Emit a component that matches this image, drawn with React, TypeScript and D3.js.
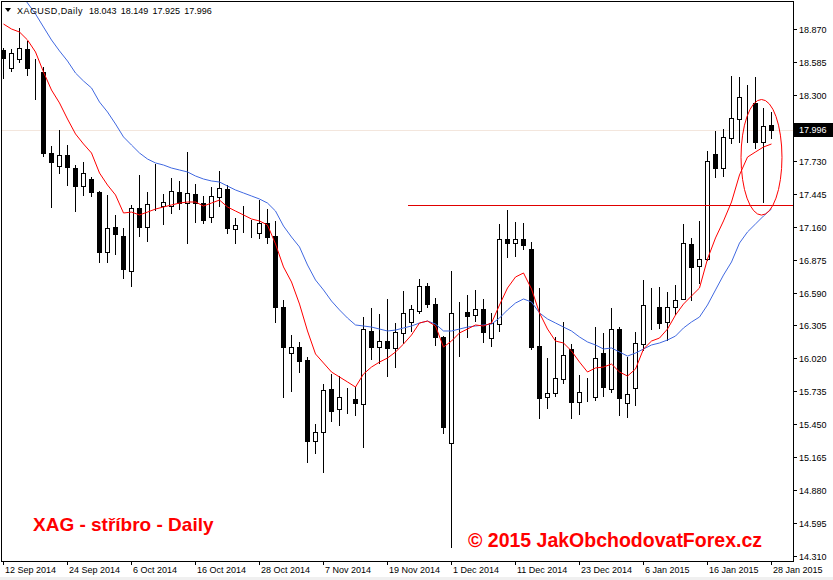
import React from "react";
import * as d3 from "d3";

// Trading days shown (daily bars)
const dates = [
  "2014-09-12","2014-09-15","2014-09-16","2014-09-17","2014-09-18","2014-09-19","2014-09-22","2014-09-23","2014-09-24","2014-09-25",
  "2014-09-26","2014-09-29","2014-09-30","2014-10-01","2014-10-02","2014-10-03","2014-10-06","2014-10-07","2014-10-08","2014-10-09",
  "2014-10-10","2014-10-13","2014-10-14","2014-10-15","2014-10-16","2014-10-17","2014-10-20","2014-10-21","2014-10-22","2014-10-23",
  "2014-10-24","2014-10-27","2014-10-28","2014-10-29","2014-10-30","2014-10-31","2014-11-03","2014-11-04","2014-11-05","2014-11-06",
  "2014-11-07","2014-11-10","2014-11-11","2014-11-12","2014-11-13","2014-11-14","2014-11-17","2014-11-18","2014-11-19","2014-11-20",
  "2014-11-21","2014-11-24","2014-11-25","2014-11-26","2014-11-27","2014-11-28","2014-12-01","2014-12-02","2014-12-03","2014-12-04",
  "2014-12-05","2014-12-08","2014-12-09","2014-12-10","2014-12-11","2014-12-12","2014-12-15","2014-12-16","2014-12-17","2014-12-18",
  "2014-12-19","2014-12-22","2014-12-23","2014-12-24","2014-12-26","2014-12-29","2014-12-30","2014-12-31","2015-01-02","2015-01-05",
  "2015-01-06","2015-01-07","2015-01-08","2015-01-09","2015-01-12","2015-01-13","2015-01-14","2015-01-15","2015-01-16","2015-01-19",
  "2015-01-20","2015-01-21","2015-01-22","2015-01-23","2015-01-26","2015-01-27","2015-01-28"
];

const openV = [
  18.688,18.532,18.610,18.697,18.510,18.498,17.798,17.685,17.780,17.667,
  17.512,17.572,17.460,16.940,17.157,17.079,16.776,17.321,17.157,17.347,
  17.339,17.339,17.460,17.364,17.442,17.364,17.243,17.416,17.486,17.139,
  17.165,17.113,17.105,17.191,17.079,16.465,16.066,16.118,16.006,15.305,
  15.383,15.755,15.582,15.677,15.668,15.625,16.257,16.118,16.170,16.109,
  16.239,16.335,16.430,16.646,16.491,16.205,15.288,16.430,16.421,16.395,
  16.447,16.196,16.317,17.053,17.018,17.053,16.967,16.127,15.686,15.720,
  15.842,16.101,15.642,15.729,15.686,16.066,15.755,16.274,15.634,15.764,
  16.144,16.499,16.465,16.335,16.465,16.534,17.010,16.819,16.880,17.789,
  17.667,17.927,18.091,18.273,18.230,17.892,18.043
];
const highV = [
  18.706,18.697,18.879,18.766,18.610,18.541,17.858,17.996,17.866,17.693,
  17.719,17.589,17.468,17.434,17.260,17.148,17.347,17.607,17.460,17.702,
  17.442,17.581,17.555,17.806,17.529,17.425,17.503,17.641,17.521,17.235,
  17.339,17.217,17.390,17.313,17.209,16.525,16.222,16.162,16.032,15.452,
  15.798,15.885,15.867,15.764,15.772,16.378,16.456,16.404,16.534,16.326,
  16.603,16.482,16.707,16.672,16.542,16.214,16.776,16.508,16.569,16.612,
  16.534,16.413,17.183,17.304,17.200,17.191,17.027,16.629,16.023,16.205,
  16.335,16.144,15.876,15.850,16.291,16.240,16.456,16.291,16.032,16.248,
  16.698,16.629,16.638,16.594,16.655,17.183,17.062,17.209,17.815,17.987,
  18.005,18.463,18.455,18.385,18.455,18.186,18.149
];
const lowV = [
  18.446,18.507,18.584,18.472,18.264,17.772,17.330,17.624,17.521,17.295,
  17.434,17.425,16.854,16.854,16.923,16.715,16.646,17.079,17.036,17.304,
  17.183,17.278,17.313,17.018,17.200,17.191,17.200,17.339,17.105,17.018,
  17.113,17.070,17.062,17.018,16.335,15.686,15.738,15.902,15.123,15.201,
  15.037,15.478,15.443,15.547,15.530,15.253,16.014,15.980,15.868,15.945,
  16.153,16.257,16.413,16.465,16.136,15.374,14.388,16.040,16.205,16.343,
  16.162,16.127,16.257,16.897,16.906,16.967,16.101,15.504,15.591,15.694,
  15.807,15.504,15.539,15.651,15.660,15.694,15.729,15.530,15.513,15.617,
  16.092,16.274,16.283,16.179,16.404,16.530,16.525,16.672,16.875,17.589,
  17.598,17.884,17.892,17.892,17.840,17.373,17.925
];
const closeV = [
  18.619,18.662,18.706,18.532,18.505,17.798,17.719,17.780,17.676,17.512,
  17.624,17.460,16.940,17.148,17.096,16.793,17.321,17.157,17.356,17.350,
  17.373,17.469,17.364,17.451,17.364,17.217,17.425,17.494,17.148,17.174,
  17.165,17.113,17.191,17.070,16.465,16.118,16.118,15.997,15.305,15.383,
  15.746,15.565,15.686,15.677,15.634,16.274,16.118,16.170,16.109,16.248,
  16.413,16.447,16.646,16.491,16.205,15.426,16.413,16.430,16.387,16.447,
  16.248,16.326,17.053,17.018,17.053,17.001,16.118,15.677,15.720,15.850,
  16.049,15.642,15.729,15.729,16.023,15.772,16.274,15.677,15.712,16.153,
  16.482,16.499,16.326,16.465,16.525,17.018,16.811,16.880,17.728,17.667,
  17.936,18.100,18.282,18.273,17.892,18.031,17.996
];

// Fast moving average (red)
const maFast = [
  18.913,18.870,18.844,18.775,18.671,18.498,18.342,18.230,18.091,17.962,
  17.875,17.797,17.624,17.520,17.434,17.278,17.286,17.261,17.286,17.312,
  17.330,17.347,17.364,17.373,17.373,17.338,17.364,17.390,17.330,17.295,
  17.261,17.226,17.209,17.174,17.010,16.811,16.681,16.490,16.257,16.058,
  15.980,15.902,15.859,15.816,15.772,15.885,15.945,15.988,16.023,16.075,
  16.144,16.222,16.326,16.343,16.300,16.118,16.170,16.240,16.274,16.309,
  16.300,16.326,16.482,16.629,16.724,16.759,16.620,16.413,16.274,16.170,
  16.153,16.084,15.988,15.902,15.937,15.945,15.971,15.902,15.867,15.928,
  16.101,16.170,16.196,16.274,16.395,16.490,16.560,16.629,16.880,17.062,
  17.209,17.373,17.607,17.762,17.806,17.849,17.875
];
// Slow moving average (blue)
const maSlow = [
  19.398,19.294,19.190,19.095,19.000,18.887,18.775,18.680,18.593,18.489,
  18.420,18.360,18.238,18.152,18.048,17.936,17.866,17.797,17.745,17.711,
  17.693,17.667,17.650,17.633,17.598,17.572,17.555,17.546,17.511,17.477,
  17.451,17.425,17.399,17.364,17.295,17.165,17.070,16.984,16.828,16.698,
  16.612,16.516,16.439,16.369,16.309,16.300,16.291,16.274,16.257,16.265,
  16.283,16.300,16.326,16.343,16.317,16.257,16.257,16.274,16.291,16.300,
  16.309,16.317,16.369,16.439,16.499,16.534,16.508,16.413,16.361,16.326,
  16.291,16.257,16.205,16.162,16.136,16.101,16.110,16.075,16.040,16.066,
  16.101,16.136,16.153,16.179,16.213,16.283,16.335,16.378,16.482,16.612,
  16.741,16.854,17.018,17.114,17.183,17.252,17.313
];

const yTickValues = [18.870,18.585,18.300,18.015,17.730,17.445,17.160,16.875,16.590,16.305,16.020,15.735,15.450,15.165,14.880,14.595,14.310];
const xTickIndex = [0,8,16,24,32,40,48,56,64,72,80,88,96];
const xTickLabels = ["12 Sep 2014","24 Sep 2014","6 Oct 2014","16 Oct 2014","28 Oct 2014","7 Nov 2014","19 Nov 2014","1 Dec 2014","11 Dec 2014","23 Dec 2014","6 Jan 2015","16 Jan 2015","28 Jan 2015"];

const symbolTitle = "XAGUSD,Daily";
const lastQuote = ["18.043", "18.149", "17.925", "17.996"];
const currentPrice = 17.996;
const levelPrice = 17.347;
const levelStartIndex = 50.6;
const ellipseCenter = { index: 94.75, price: 17.76 };
const ellipseHalf = { bars: 2.56, price: 0.50 };

export default function App() {
  const W = 833, H = 580;
  const pl = 1, pt = 1, pr = 793, pb = 561;
  const n = dates.length;
  const x = d3.scaleLinear().domain([0, n - 1]).range([3, 3 + 8 * (n - 1)]);
  const y = d3.scaleLinear().domain([14.31, 18.87]).range([556, 29]);
  const fmt = d3.format(".3f");
  const font = "'Liberation Sans', Arial, sans-serif";

  const line = d3.line<number>()
    .x((_, i) => Math.round(x(i)) + 0.5)
    .y((v) => y(v));

  const candles = dates.map((d, i) => {
    const o = openV[i], c = closeV[i], h = highV[i], l = lowV[i];
    const cx = Math.round(x(i)) + 0.5;
    const top = Math.round(y(Math.max(o, c)));
    const bot = Math.round(y(Math.min(o, c)));
    const yh = Math.round(y(h));
    const yl = Math.round(y(l));
    const bull = c >= o;
    return (
      <g key={d}>
        <line x1={cx} x2={cx} y1={yh} y2={yl + 1} stroke="#000" strokeWidth={1} />
        <rect x={cx - 2} y={top + 0.5} width={4} height={Math.max(0, bot - top)}
          fill={bull ? "#fff" : "#000"} stroke="#000" strokeWidth={1} />
      </g>
    );
  });

  const yCur = Math.round(y(currentPrice)) + 0.5;
  const yLevel = Math.round(y(levelPrice)) + 0.5;

  return (
    <div style={{ position: "absolute", left: 0, top: 0, width: W, height: H }}>
      <svg width={W} height={H} style={{ display: "block" }}>
        <defs>
          <clipPath id="plotClip">
            <rect x={pl + 1} y={pt + 1} width={pr - pl - 1} height={pb - pt - 1} />
          </clipPath>
        </defs>
        <rect x={0} y={0} width={W} height={H} fill="#fff" />
        <rect x={0} y={577} width={W} height={3} fill="#f0f0f0" />
        <g clipPath="url(#plotClip)">
          <line x1={pl} x2={pr} y1={yCur} y2={yCur} stroke="#f3e6dd" strokeWidth={1} />
          {candles}
          <path d={line(maSlow) || ""} fill="none" stroke="#4169e1" strokeWidth={1} />
          <path d={line(maFast) || ""} fill="none" stroke="#ff0000" strokeWidth={1} />
          <line x1={Math.round(x(levelStartIndex))} x2={pr} y1={yLevel} y2={yLevel} stroke="#e00000" strokeWidth={1} />
          <ellipse cx={x(ellipseCenter.index) + 0.5} cy={y(ellipseCenter.price)}
            rx={x(ellipseHalf.bars) - x(0)} ry={y(0) - y(ellipseHalf.price)}
            fill="none" stroke="#ff0000" strokeWidth={1} />
        </g>
        <rect x={pl + 0.5} y={pt + 0.5} width={pr - pl} height={pb - pt} fill="none" stroke="#000" strokeWidth={1} />

        {/* price axis */}
        {yTickValues.map((v) => {
          const yy = Math.round(y(v)) + 0.5;
          return (
            <g key={v}>
              <line x1={pr} x2={pr + 4} y1={yy} y2={yy} stroke="#000" strokeWidth={1} />
              <text x={799} y={yy + 3.3} fontFamily={font} fontSize={9} fill="#000">{fmt(v)}</text>
            </g>
          );
        })}
        <rect x={pr + 1} y={Math.round(y(currentPrice)) - 7} width={W - pr - 1} height={14} fill="#000" />
        <text x={799} y={Math.round(y(currentPrice)) + 3.3} fontFamily={font} fontSize={9} fill="#fff">{fmt(currentPrice)}</text>

        {/* time axis */}
        {xTickIndex.map((idx, k) => {
          const xx = Math.round(x(idx)) + 0.5;
          return (
            <g key={idx}>
              <line x1={xx} x2={xx} y1={pb} y2={pb + 4} stroke="#000" strokeWidth={1} />
              <text x={xx + 1.5} y={573} fontFamily={font} fontSize={9} fill="#000">{xTickLabels[k]}</text>
            </g>
          );
        })}

        {/* header */}
        <path d="M5,8 L11,8 L8,12 Z" fill="#000" />
        <text x={17} y={13.5} fontFamily={font} fontSize={9} letterSpacing={0.45} fill="#000">{symbolTitle}</text>
        <text x={89} y={13.5} fontFamily={font} fontSize={9} wordSpacing={1.7} fill="#000">{lastQuote.join(" ")}</text>

        {/* labels */}
        <text x={33} y={531} fontFamily={font} fontWeight="bold" fontSize={19} fill="#ff0000">XAG - stříbro - Daily</text>
        <text x={468} y={547} fontFamily={font} fontWeight="bold" fontSize={19.5} fill="#ff0000">© 2015 JakObchodovatForex.cz</text>
      </svg>
    </div>
  );
}
